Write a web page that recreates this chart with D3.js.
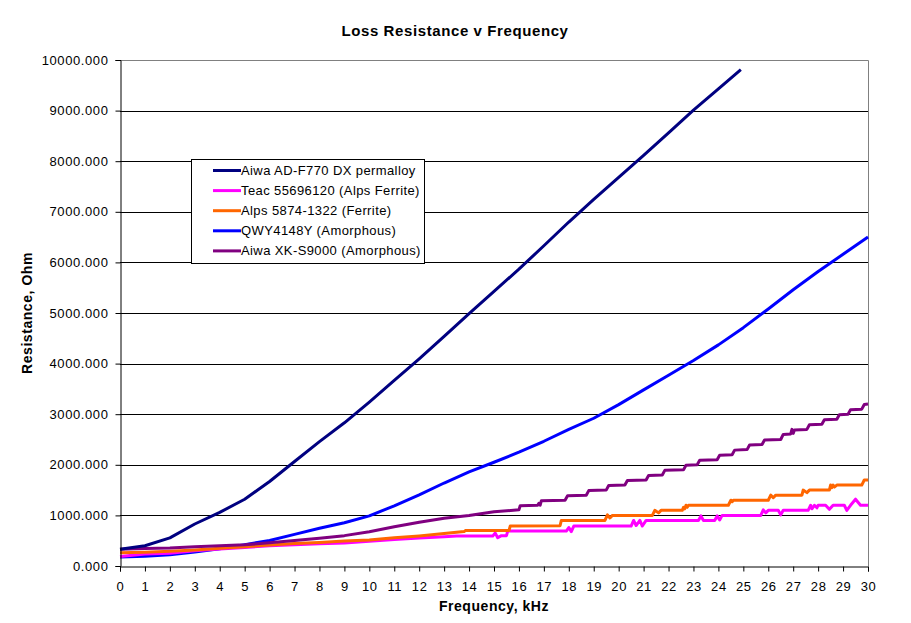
<!DOCTYPE html>
<html>
<head>
<meta charset="utf-8">
<script src="https://cdn.jsdelivr.net/npm/d3@7"></script>
<style>
  html, body { margin: 0; padding: 0; background: #fff; }
  svg { display: block; }
  text { font-family: Arial, "Liberation Sans", sans-serif; fill: #000; }
</style>
</head>
<body>
<svg id="chart" width="911" height="623"></svg>
<script>
// ---- Data ----
const title = "Loss Resistance v Frequency";
const xTitle = "Frequency, kHz";
const yTitle = "Resistance, Ohm";
const xTicks = d3.range(0, 31, 1);
const yTicks = [0, 1000, 2000, 3000, 4000, 5000, 6000, 7000, 8000, 9000, 10000];

const seriesNames = [
  "Aiwa AD-F770 DX permalloy",
  "Teac 55696120 (Alps Ferrite)",
  "Alps 5874-1322 (Ferrite)",
  "QWY4148Y (Amorphous)",
  "Aiwa XK-S9000 (Amorphous)"
];
const seriesColors = ["#000080", "#FF00FF", "#FF6600", "#0000FF", "#800080"];

// [frequency kHz, resistance Ohm]
const adf770 = [[0,330],[1,400],[2,555],[3,830],[4,1060],[5,1320],[6,1670],[7,2065],[8,2458],[9,2830],[10,3240],[11,3667],[12,4095],[13,4540],[14,4987],[15,5427],[16,5867],[17,6329],[18,6798],[19,7246],[20,7678],[21,8113],[22,8561],[23,9008],[24,9430],[24.9,9810]];

const teac = [[0,190],[1,235],[2,252],[3,300],[4,335],[5,368],[6,398],[7,418],[8,438],[9,455],[10,490],[11,525],[12,555],[13,580],[13.5,595],[14.95,595],[15.05,650],[15.15,560],[15.3,600],[15.5,600],[15.55,690],[17.9,690],[18.0,760],[18.1,680],[18.2,790],[20.5,790],[20.6,900],[20.7,800],[20.85,900],[20.95,790],[21.1,900],[23.2,900],[23.3,990],[23.4,900],[23.85,900],[23.95,990],[24.05,910],[24.15,1000],[25.7,1000],[25.8,1110],[25.9,1050],[26.0,1100],[26.4,1100],[26.5,1010],[26.6,1100],[27.6,1100],[27.7,1200],[27.75,1130],[27.85,1200],[27.95,1150],[28.0,1200],[28.3,1200],[28.45,1120],[28.6,1200],[29.05,1200],[29.15,1100],[29.3,1200],[29.5,1320],[29.7,1200],[30,1200]];

const alps = [[0,260],[1,272],[2,290],[3,316],[4,350],[5,382],[6,415],[7,445],[8,465],[9,495],[10,515],[11,560],[12,595],[13,640],[13.8,680],[13.85,700],[15.6,700],[15.65,790],[17.65,795],[17.7,900],[19.45,900],[19.55,1010],[19.65,950],[19.75,1000],[21.35,1000],[21.45,1100],[21.6,1050],[21.7,1100],[22.55,1100],[22.6,1160],[22.65,1130],[22.7,1200],[22.75,1160],[22.8,1200],[24.4,1200],[24.5,1300],[24.55,1270],[24.6,1300],[26.0,1300],[26.1,1400],[26.2,1350],[26.3,1400],[27.35,1400],[27.4,1500],[27.55,1450],[27.65,1500],[28.45,1500],[28.5,1600],[28.55,1550],[28.6,1600],[28.65,1560],[28.75,1600],[29.75,1600],[29.85,1700],[30,1700]];

const qwy = [[0,180],[1,195],[2,220],[3,275],[4,340],[5,420],[6,505],[7,625],[8,745],[9,855],[10,990],[11,1190],[12,1405],[13,1640],[14,1860],[15,2050],[16,2250],[17,2465],[18,2700],[19,2920],[20,3190],[21,3480],[22,3770],[23,4060],[24,4370],[25,4710],[26,5080],[27,5460],[28,5820],[29,6160],[30,6500]];

const xks9000 = [[0,330],[1,345],[2,355],[3,380],[4,398],[5,420],[6,458],[7,503],[8,548],[9,600],[10,675],[11,775],[12,865],[13,945],[14,1000],[15,1070],[16.0,1110],[16.05,1190],[16.75,1200],[16.8,1240],[16.85,1200],[16.9,1290],[17.85,1300],[17.95,1390],[18.7,1400],[18.8,1490],[19.5,1500],[19.6,1590],[20.25,1600],[20.35,1690],[21.1,1700],[21.2,1790],[21.75,1800],[21.85,1890],[22.6,1900],[22.7,1990],[23.15,2000],[23.25,2090],[23.95,2100],[24.05,2190],[24.55,2200],[24.65,2290],[25.15,2300],[25.25,2390],[25.75,2400],[25.85,2490],[26.5,2500],[26.6,2600],[26.9,2610],[26.95,2700],[27.0,2620],[27.05,2690],[27.55,2700],[27.65,2790],[28.15,2800],[28.25,2890],[28.75,2900],[28.85,2990],[29.2,3000],[29.3,3090],[29.75,3100],[29.85,3190],[30,3200]];

const seriesData = [adf770, teac, alps, qwy, xks9000];
const drawOrder = [3, 1, 2, 4, 0];

// ---- Layout ----
const svg = d3.select("#chart");
const W = 911, H = 623;
const plot = { left: 120, right: 868, top: 60, bottom: 566 };
const FONT = "Arial, 'Liberation Sans', sans-serif";

svg.append("rect").attr("x", 0).attr("y", 0).attr("width", W).attr("height", H).attr("fill", "#fff");

const x = d3.scaleLinear().domain([0, 30]).range([plot.left, plot.right]);
const y = d3.scaleLinear().domain([0, 10000]).range([plot.bottom, plot.top]);

// gridlines
svg.append("g").selectAll("line").data(yTicks.filter(d => d > 0 && d < 10000)).join("line")
  .attr("x1", plot.left).attr("x2", plot.right)
  .attr("y1", d => Math.round(y(d)) + 0.5).attr("y2", d => Math.round(y(d)) + 0.5)
  .attr("stroke", "#000").attr("stroke-width", 1);

// plot border (top & right grey)
svg.append("path")
  .attr("d", `M${plot.left},${plot.top + 0.5}H${plot.right + 0.5}V${plot.bottom}`)
  .attr("fill", "none").attr("stroke", "#808080").attr("stroke-width", 1);

// series lines
const line = d3.line().x(d => x(d[0])).y(d => y(d[1]));
const gLines = svg.append("g");
drawOrder.forEach(i => {
  gLines.append("path").datum(seriesData[i])
    .attr("d", line)
    .attr("fill", "none")
    .attr("stroke", seriesColors[i])
    .attr("stroke-width", 3)
    .attr("stroke-linejoin", "round")
    .attr("stroke-linecap", "butt");
});

// axes
const yAxis = d3.axisLeft(y).tickValues(yTicks).tickSize(5).tickPadding(7).tickFormat(d => d3.format(".3f")(d));
const gy = svg.append("g").attr("transform", `translate(${plot.left + 0.5},0)`).call(yAxis);
gy.select(".domain").attr("stroke", "#000");
gy.selectAll(".tick line").attr("stroke", "#000");
gy.selectAll(".tick text").attr("font-size", 13).attr("letter-spacing", 0.6).attr("font-family", FONT).attr("fill", "#000");

const xAxis = d3.axisBottom(x).tickValues(xTicks).tickSize(5).tickPadding(10).tickFormat(d3.format("d"));
const gx = svg.append("g").attr("transform", `translate(0,${plot.bottom + 0.5})`).call(xAxis);
gx.select(".domain").attr("stroke", "#000");
gx.selectAll(".tick line").attr("stroke", "#000");
gx.selectAll(".tick text").attr("font-size", 13).attr("letter-spacing", 0.6).attr("font-family", FONT).attr("fill", "#000");

// titles
svg.append("text").attr("x", 455).attr("y", 36).attr("text-anchor", "middle")
  .attr("font-size", 15).attr("letter-spacing", 0.6).attr("font-weight", "bold").text(title);
svg.append("text").attr("x", 494).attr("y", 611).attr("text-anchor", "middle")
  .attr("font-size", 14).attr("letter-spacing", 0.55).attr("font-weight", "bold").text(xTitle);
svg.append("text").attr("transform", "translate(32,313) rotate(-90)").attr("text-anchor", "middle")
  .attr("font-size", 14).attr("letter-spacing", 0.55).attr("font-weight", "bold").text(yTitle);

// legend
const lg = svg.append("g");
lg.append("rect").attr("x", 191.5).attr("y", 159.5).attr("width", 233).attr("height", 104)
  .attr("fill", "#fff").attr("stroke", "#000").attr("stroke-width", 1);
seriesNames.forEach((name, i) => {
  const cy = 170.5 + i * 20.1;
  lg.append("line").attr("x1", 213).attr("x2", 241).attr("y1", cy).attr("y2", cy)
    .attr("stroke", seriesColors[i]).attr("stroke-width", 3);
  lg.append("text").attr("x", 241).attr("y", cy + 4.5).attr("font-size", 13).attr("letter-spacing", 0.4).text(name);
});
</script>
</body>
</html>
